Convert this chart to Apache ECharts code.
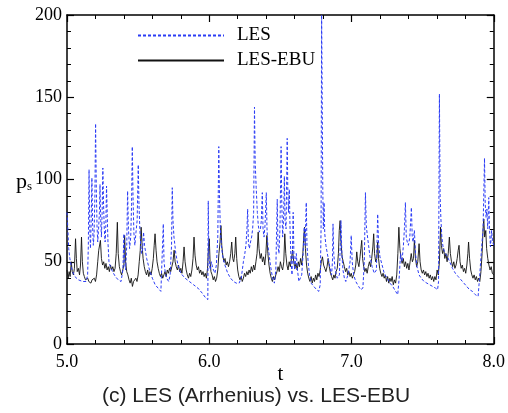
<!DOCTYPE html>
<html>
<head>
<meta charset="utf-8">
<script src="https://cdn.jsdelivr.net/npm/echarts@6/dist/echarts.min.js"></script>
<style>
  html, body { margin: 0; padding: 0; background: #fff; }
  #chart { width: 508px; height: 413px; }
</style>
</head>
<body>
<div id="chart"></div>
<script>
// LES (Arrhenius) - time and pressure
const lesT = [5.000, 5.005, 5.012, 5.020, 5.035, 5.055, 5.080, 5.110, 5.135, 5.145, 5.150, 5.155, 5.160, 5.165, 5.170, 5.175, 5.180, 5.185, 5.190, 5.196,
  5.201, 5.206, 5.211, 5.216, 5.222, 5.228, 5.232, 5.237, 5.242, 5.247, 5.252, 5.257, 5.262, 5.268, 5.273, 5.278, 5.283, 5.288, 5.295, 5.305,
  5.320, 5.340, 5.360, 5.380, 5.393, 5.400, 5.405, 5.412, 5.420, 5.426, 5.432, 5.440, 5.448, 5.454, 5.459, 5.464, 5.470, 5.477, 5.485, 5.493,
  5.501, 5.506, 5.512, 5.518, 5.525, 5.532, 5.538, 5.545, 5.560, 5.580, 5.600, 5.620, 5.640, 5.660, 5.672, 5.677, 5.682, 5.690, 5.700, 5.715,
  5.725, 5.735, 5.740, 5.745, 5.752, 5.765, 5.780, 5.800, 5.830, 5.860, 5.890, 5.920, 5.950, 5.975, 5.990, 5.993, 5.997, 6.002, 6.008, 6.015,
  6.025, 6.040, 6.050, 6.060, 6.067, 6.072, 6.078, 6.085, 6.095, 6.110, 6.130, 6.150, 6.170, 6.190, 6.210, 6.225, 6.240, 6.250, 6.258, 6.265,
  6.270, 6.275, 6.282, 6.290, 6.298, 6.305, 6.312, 6.318, 6.323, 6.330, 6.338, 6.345, 6.352, 6.360, 6.366, 6.373, 6.378, 6.385, 6.392, 6.401,
  6.406, 6.412, 6.420, 6.430, 6.445, 6.458, 6.468, 6.478, 6.483, 6.490, 6.497, 6.505, 6.510, 6.516, 6.522, 6.528, 6.533, 6.540, 6.548, 6.552,
  6.557, 6.563, 6.568, 6.575, 6.582, 6.590, 6.595, 6.600, 6.612, 6.620, 6.630, 6.640, 6.650, 6.660, 6.668, 6.674, 6.682, 6.687, 6.695, 6.705,
  6.716, 6.735, 6.755, 6.770, 6.780, 6.786, 6.790, 6.794, 6.798, 6.802, 6.807, 6.812, 6.820, 6.830, 6.845, 6.860, 6.866, 6.870, 6.875, 6.885,
  6.900, 6.915, 6.926, 6.932, 6.940, 6.950, 6.960, 6.975, 6.990, 6.998, 7.005, 7.015, 7.030, 7.050, 7.065, 7.080, 7.090, 7.098, 7.104, 7.110,
  7.120, 7.130, 7.145, 7.160, 7.175, 7.184, 7.190, 7.200, 7.215, 7.230, 7.250, 7.270, 7.290, 7.310, 7.325, 7.335, 7.345, 7.355, 7.365, 7.372,
  7.379, 7.385, 7.392, 7.400, 7.410, 7.421, 7.427, 7.433, 7.442, 7.450, 7.460, 7.475, 7.490, 7.510, 7.530, 7.550, 7.570, 7.590, 7.605, 7.612,
  7.618, 7.623, 7.628, 7.635, 7.645, 7.660, 7.675, 7.690, 7.710, 7.730, 7.750, 7.770, 7.790, 7.810, 7.830, 7.850, 7.870, 7.890, 7.900, 7.915,
  7.925, 7.935, 7.940, 7.946, 7.952, 7.958, 7.965, 7.970, 7.977, 7.985, 7.992, 8.000];
const lesP = [80, 72, 58, 52, 45, 41, 39, 38, 38, 42, 60, 106, 70, 58, 75, 101, 72, 60, 66, 90,
  134, 95, 72, 62, 70, 80, 97, 75, 65, 80, 107, 85, 70, 62, 72, 96, 78, 62, 50, 47,
  44, 41, 39, 38, 45, 67, 50, 45, 60, 93, 70, 58, 65, 85, 120, 90, 68, 60, 68, 75,
  109, 85, 70, 60, 55, 58, 68, 60, 52, 45, 40, 36, 34, 32, 31, 73, 50, 44, 40, 38,
  42, 60, 95, 75, 65, 55, 48, 43, 40, 38, 36, 34, 31, 28, 27, 87, 55, 48, 45, 50,
  46, 43, 48, 65, 120, 90, 70, 60, 53, 48, 43, 40, 38, 37, 37, 40, 50, 55, 60, 70,
  82, 62, 58, 62, 65, 70, 80, 144, 110, 95, 80, 72, 68, 70, 75, 92, 70, 65, 72, 92,
  70, 60, 55, 48, 40, 37, 45, 88, 60, 55, 70, 120, 85, 65, 75, 102, 75, 70, 125, 95,
  80, 94, 70, 50, 42, 80, 55, 45, 55, 45, 38, 37, 42, 55, 71, 60, 86, 60, 50, 42,
  37, 35, 33, 32, 36, 70, 200, 150, 95, 70, 86, 67, 60, 55, 48, 42, 50, 73, 55, 45,
  40, 42, 75, 55, 45, 40, 38, 42, 50, 66, 50, 42, 38, 35, 33, 34, 50, 92, 72, 67,
  60, 53, 47, 43, 45, 79, 62, 53, 48, 43, 40, 37, 35, 32, 30, 40, 55, 50, 60, 70,
  86, 65, 62, 60, 65, 83, 65, 62, 69, 55, 47, 42, 40, 38, 37, 36, 35, 34, 33, 38,
  152, 90, 77, 65, 58, 55, 53, 50, 46, 43, 41, 39, 37, 35, 33, 32, 30, 29, 40, 59,
  70, 113, 85, 77, 82, 70, 89, 70, 59, 69, 62, 60];

// LES-EBU - time and pressure
const ebuT = [5.000, 5.008, 5.015, 5.022, 5.030, 5.037, 5.045, 5.052, 5.060, 5.066, 5.072, 5.080, 5.088, 5.095, 5.102, 5.108, 5.115, 5.122, 5.130, 5.138,
  5.146, 5.153, 5.160, 5.168, 5.176, 5.184, 5.192, 5.200, 5.208, 5.216, 5.223, 5.235, 5.242, 5.250, 5.258, 5.266, 5.274, 5.282, 5.290, 5.298,
  5.306, 5.314, 5.322, 5.330, 5.338, 5.346, 5.354, 5.360, 5.368, 5.376, 5.384, 5.392, 5.400, 5.405, 5.412, 5.420, 5.428, 5.436, 5.444, 5.452,
  5.460, 5.468, 5.476, 5.484, 5.492, 5.500, 5.508, 5.515, 5.521, 5.528, 5.535, 5.543, 5.551, 5.559, 5.567, 5.575, 5.583, 5.591, 5.599, 5.607,
  5.613, 5.619, 5.626, 5.633, 5.641, 5.649, 5.657, 5.665, 5.673, 5.681, 5.689, 5.697, 5.705, 5.713, 5.721, 5.729, 5.737, 5.745, 5.753, 5.760,
  5.768, 5.776, 5.784, 5.792, 5.800, 5.808, 5.816, 5.823, 5.830, 5.838, 5.846, 5.854, 5.862, 5.870, 5.878, 5.886, 5.893, 5.900, 5.908, 5.916,
  5.924, 5.932, 5.940, 5.948, 5.956, 5.964, 5.972, 5.980, 5.988, 5.994, 6.000, 6.006, 6.012, 6.020, 6.028, 6.036, 6.044, 6.052, 6.060, 6.068,
  6.076, 6.082, 6.088, 6.095, 6.103, 6.111, 6.119, 6.127, 6.135, 6.143, 6.151, 6.158, 6.165, 6.172, 6.180, 6.186, 6.193, 6.200, 6.208, 6.216,
  6.224, 6.232, 6.240, 6.248, 6.256, 6.264, 6.272, 6.280, 6.288, 6.296, 6.304, 6.312, 6.320, 6.328, 6.336, 6.344, 6.350, 6.358, 6.366, 6.374,
  6.382, 6.390, 6.398, 6.405, 6.412, 6.420, 6.428, 6.436, 6.444, 6.452, 6.460, 6.468, 6.476, 6.484, 6.492, 6.500, 6.508, 6.516, 6.524, 6.531,
  6.538, 6.546, 6.554, 6.562, 6.570, 6.578, 6.586, 6.594, 6.602, 6.610, 6.618, 6.626, 6.634, 6.642, 6.650, 6.658, 6.664, 6.670, 6.676, 6.684,
  6.692, 6.700, 6.708, 6.716, 6.724, 6.732, 6.740, 6.748, 6.756, 6.764, 6.772, 6.780, 6.788, 6.796, 6.804, 6.812, 6.820, 6.828, 6.836, 6.844,
  6.852, 6.860, 6.868, 6.876, 6.884, 6.892, 6.900, 6.908, 6.914, 6.920, 6.926, 6.934, 6.942, 6.950, 6.958, 6.966, 6.974, 6.982, 6.990, 6.998,
  7.006, 7.014, 7.022, 7.030, 7.037, 7.044, 7.052, 7.060, 7.066, 7.072, 7.078, 7.086, 7.094, 7.102, 7.110, 7.118, 7.126, 7.134, 7.142, 7.150,
  7.156, 7.162, 7.170, 7.178, 7.184, 7.190, 7.198, 7.206, 7.214, 7.222, 7.230, 7.238, 7.246, 7.254, 7.262, 7.270, 7.278, 7.286, 7.294, 7.302,
  7.310, 7.318, 7.326, 7.333, 7.340, 7.348, 7.356, 7.364, 7.372, 7.380, 7.388, 7.396, 7.404, 7.412, 7.420, 7.428, 7.436, 7.442, 7.450, 7.458,
  7.466, 7.475, 7.482, 7.490, 7.498, 7.506, 7.514, 7.522, 7.530, 7.538, 7.546, 7.554, 7.562, 7.570, 7.578, 7.586, 7.594, 7.602, 7.610, 7.618,
  7.626, 7.632, 7.640, 7.648, 7.656, 7.664, 7.672, 7.680, 7.688, 7.695, 7.703, 7.711, 7.719, 7.727, 7.735, 7.743, 7.750, 7.756, 7.763, 7.771,
  7.779, 7.787, 7.795, 7.803, 7.811, 7.818, 7.823, 7.830, 7.838, 7.846, 7.854, 7.862, 7.870, 7.878, 7.886, 7.894, 7.902, 7.910, 7.918, 7.925,
  7.930, 7.936, 7.944, 7.950, 7.958, 7.966, 7.974, 7.982, 7.990, 8.000];
const ebuP = [45, 40, 44, 41, 50, 44, 42, 46, 64, 52, 44, 46, 42, 48, 65, 50, 43, 41, 39, 38,
  40, 38, 39, 37, 39, 38, 40, 38, 42, 50, 57, 63, 52, 48, 50, 46, 49, 45, 47, 44,
  48, 45, 47, 44, 46, 55, 74, 55, 47, 44, 42, 45, 48, 66, 50, 44, 42, 39, 37, 40,
  35, 38, 37, 40, 38, 42, 50, 57, 71, 60, 52, 47, 44, 42, 45, 41, 44, 42, 46, 52,
  60, 67, 57, 50, 46, 43, 41, 43, 40, 42, 44, 41, 45, 43, 46, 44, 47, 50, 57, 50,
  47, 45, 48, 44, 46, 43, 50, 59, 50, 45, 42, 40, 43, 41, 45, 52, 65, 54, 48, 45,
  47, 43, 45, 42, 44, 41, 43, 40, 46, 58, 64, 50, 44, 42, 39, 41, 38, 40, 45, 55,
  62, 72, 60, 54, 50, 52, 48, 50, 47, 50, 55, 62, 52, 50, 55, 65, 52, 45, 41, 39,
  41, 38, 40, 43, 41, 44, 42, 45, 43, 47, 44, 48, 45, 50, 55, 68, 58, 52, 55, 50,
  53, 48, 55, 66, 55, 48, 43, 40, 38, 41, 39, 42, 44, 47, 44, 50, 47, 45, 50, 67,
  55, 48, 45, 50, 47, 52, 57, 50, 46, 49, 45, 50, 47, 52, 48, 55, 65, 71, 58, 48,
  43, 40, 38, 41, 37, 40, 38, 42, 39, 43, 41, 45, 50, 53, 48, 46, 44, 47, 52, 47,
  43, 41, 39, 42, 40, 44, 46, 55, 69, 75, 62, 53, 50, 47, 44, 46, 42, 44, 41, 43,
  40, 42, 44, 48, 56, 50, 47, 53, 58, 63, 52, 47, 44, 46, 43, 47, 50, 47, 52, 59,
  67, 55, 50, 52, 62, 52, 46, 43, 41, 43, 40, 42, 38, 41, 37, 40, 38, 41, 36, 39,
  37, 42, 55, 71, 58, 52, 49, 52, 47, 50, 46, 49, 45, 50, 55, 50, 52, 63, 52, 47,
  50, 61, 50, 45, 43, 45, 42, 44, 41, 43, 40, 42, 39, 41, 38, 41, 39, 45, 42, 50,
  71, 60, 55, 58, 52, 55, 50, 55, 65, 55, 50, 47, 50, 46, 48, 52, 57, 60, 50, 46,
  48, 44, 46, 43, 48, 55, 62, 52, 45, 42, 40, 42, 39, 41, 38, 40, 38, 44, 55, 70,
  76, 65, 69, 58, 52, 48, 45, 47, 43, 42];

const xTicks = { min: 5, max: 8, interval: 1 };
const yTicks = { min: 0, max: 200, interval: 50 };

const zip = (ts, ps) => ts.map((t, i) => [t, ps[i]]);

const chart = echarts.init(document.getElementById('chart'));

const serif = 'Liberation Serif';
const tickInside = len => ({ show: true, inside: true, length: len, lineStyle: { color: '#000', width: 1.2 } });
const minorInside = { show: true, splitNumber: 5, length: 4, lineStyle: { color: '#000', width: 1 } };

const baseX = {
  type: 'value', min: xTicks.min, max: xTicks.max, interval: xTicks.interval,
  axisLine: { show: true, onZero: false, lineStyle: { color: '#000', width: 1.5 } },
  axisTick: tickInside(7),
  minorTick: minorInside,
  splitLine: { show: false }
};
const baseY = {
  type: 'value', min: yTicks.min, max: yTicks.max, interval: yTicks.interval,
  axisLine: { show: true, onZero: false, lineStyle: { color: '#000', width: 1.5 } },
  axisTick: tickInside(7),
  minorTick: minorInside,
  splitLine: { show: false }
};

chart.setOption({
  animation: false,
  backgroundColor: '#fff',
  title: {
    text: '(c) LES (Arrhenius) vs. LES-EBU',
    left: 97,
    top: 381,
    textStyle: { fontFamily: 'Liberation Sans', fontSize: 21, fontWeight: 'normal', color: '#222' }
  },
  legend: {
    orient: 'vertical',
    left: 132,
    top: 21,
    itemWidth: 86,
    itemHeight: 14,
    itemGap: 6,
    itemStyle: { opacity: 0 },
    textStyle: { fontFamily: serif, fontSize: 19, color: '#000', padding: [0, 0, 0, 8] },
    data: ['LES', 'LES-EBU']
  },
  grid: { left: 67, right: 11, top: 15, bottom: 69, containLabel: false },
  xAxis: [
    Object.assign({}, baseX, {
      position: 'bottom',
      name: 't',
      nameLocation: 'middle',
      nameGap: 20,
      nameMoveOverlap: false,
      nameTextStyle: { fontFamily: serif, fontSize: 21, color: '#000' },
      axisLabel: { fontFamily: serif, fontSize: 18, color: '#000', margin: 9, formatter: v => v.toFixed(1) }
    }),
    Object.assign({}, baseX, { position: 'top', axisLabel: { show: false } })
  ],
  yAxis: [
    Object.assign({}, baseY, {
      position: 'left',
      name: '{p|p}{s|s}',
      nameLocation: 'middle',
      nameRotate: 0,
      nameGap: 35,
      nameMoveOverlap: false,
      nameTextStyle: {
        padding: [6, 0, 0, 0],
        rich: {
          p: { fontFamily: serif, fontSize: 22, color: '#000' },
          s: { fontFamily: serif, fontSize: 13, color: '#000', verticalAlign: 'bottom', padding: [8, 0, 0, 0] }
        }
      },
      axisLabel: { fontFamily: serif, fontSize: 18, color: '#000', margin: 5 }
    }),
    Object.assign({}, baseY, { position: 'right', axisLabel: { show: false } })
  ],
  series: [
    {
      name: 'LES-EBU',
      type: 'line',
      data: zip(ebuT, ebuP),
      symbol: 'none',
      z: 2,
      lineStyle: { color: '#111', width: 0.9 },
      itemStyle: { color: '#111' }
    },
    {
      name: 'LES',
      type: 'line',
      data: zip(lesT, lesP),
      symbol: 'none',
      z: 3,
      lineStyle: { color: '#2b3cf5', width: 1, type: [3, 2] },
      itemStyle: { color: '#2b3cf5' }
    }
  ]
});
</script>
</body>
</html>
